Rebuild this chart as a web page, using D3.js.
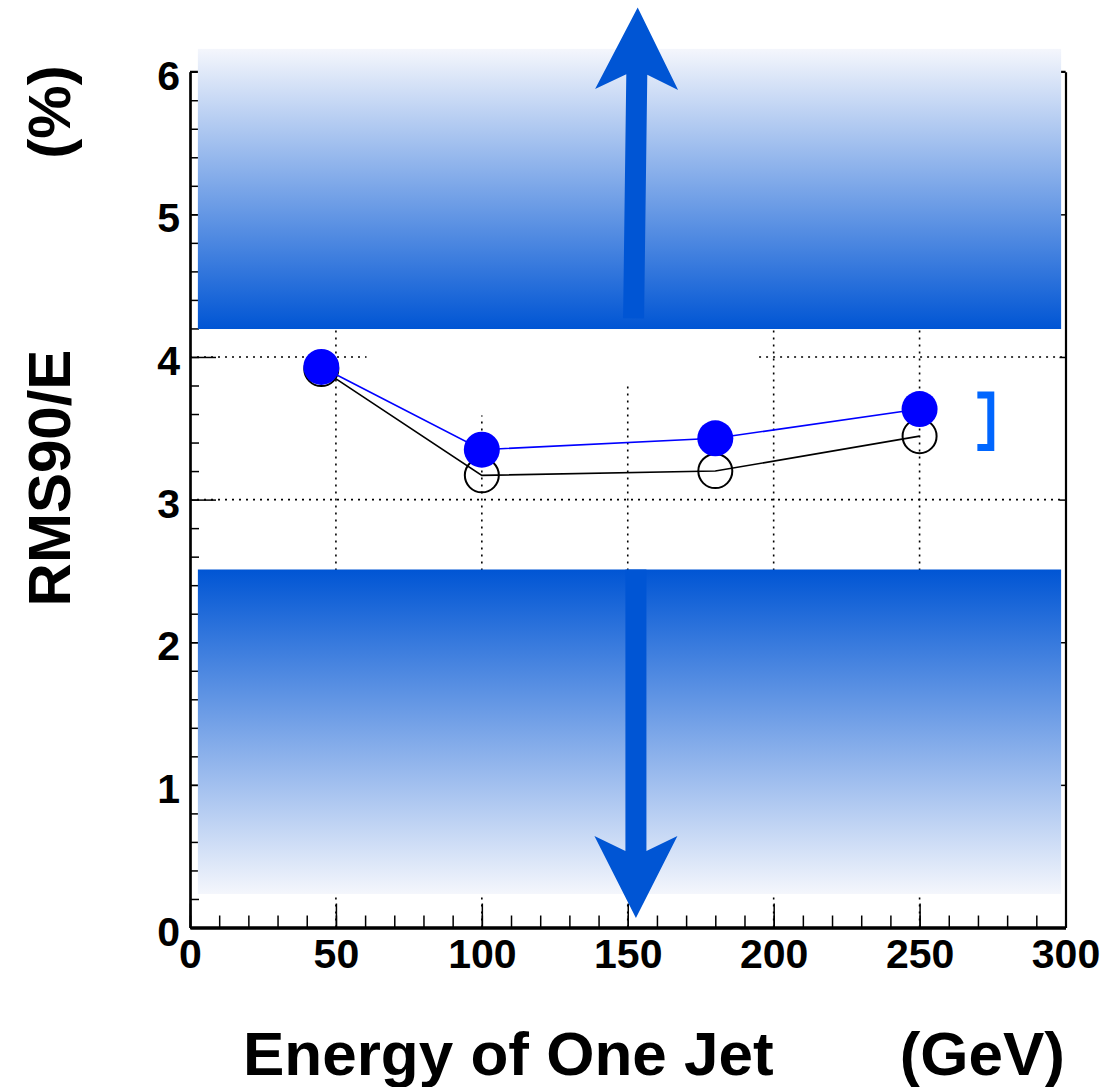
<!DOCTYPE html>
<html>
<head>
<meta charset="utf-8">
<script src="https://cdn.jsdelivr.net/npm/d3@7"></script>
<style>
  body { margin: 0; background: #fff; }
  svg { display: block; }
  text { font-family: "Liberation Sans", Arial, Helvetica, sans-serif; font-weight: bold; }
</style>
</head>
<body>
<div id="chart"></div>
<script>
// data
const energies = [45, 100, 180, 250];
const resFilled = [3.93, 3.35, 3.43, 3.635];   // blue filled markers
const resOpen = [3.915, 3.17, 3.20, 3.445];    // black open markers

const xMajor = [0, 50, 100, 150, 200, 250, 300];
const yMajor = [0, 1, 2, 3, 4, 5, 6];

// shaded bands (data units) and the arrows inside them
const bandUp = [2.7, 298.5, 4.196, 6.16];     // x0, x1, y0, y1
const bandDown = [2.7, 298.5, 0.235, 2.51];
const arrowUp = [152.0, 4.27, 153.4, 6.45];   // x0, y0 -> tip x1, y1
const arrowDown = [152.8, 2.51, 152.8, 0.067];
const bracket = [269.8, 275.6, 3.345, 3.755];

// visible pieces of the dotted grid
const gridH = [[3, 0, 300], [4, 0, 60.5], [4, 195, 300]];
const gridV = [[50, 0, 4.2], [100, 0, 3.59], [150, 0, 3.8], [200, 0, 4.2], [250, 0, 4.2]];

let width = 1106, height = 1087;

let svg = d3.select("#chart").append("svg")
  .attr("width", width)
  .attr("height", height);

let x = d3.scaleLinear().domain([0, 300]).range([190, 1065.5]);
let y = d3.scaleLinear().domain([0, 6]).range([927.5, 71.7]);

// gradients for the bands
let defs = svg.append("defs");
function grad(id, top, bottom) {
  let g = defs.append("linearGradient").attr("id", id)
    .attr("x1", 0).attr("y1", 0).attr("x2", 0).attr("y2", 1);
  g.append("stop").attr("offset", "0%").attr("stop-color", top);
  g.append("stop").attr("offset", "100%").attr("stop-color", bottom);
}
grad("gUp", "#f4f6fc", "#0055d4");
grad("gDown", "#0055d4", "#f4f6fc");

// grid
let grid = svg.append("g").attr("stroke", "#000").attr("stroke-width", 1.6)
  .attr("stroke-dasharray", "2,5");
grid.selectAll(".gh").data(gridH).enter().append("line")
  .attr("x1", d => x(d[1])).attr("x2", d => x(d[2]))
  .attr("y1", d => y(d[0])).attr("y2", d => y(d[0]));
grid.selectAll(".gv").data(gridV).enter().append("line")
  .attr("x1", d => x(d[0])).attr("x2", d => x(d[0]))
  .attr("y1", d => y(d[1])).attr("y2", d => y(d[2]));

// axes, ROOT style ticks pointing inwards
let xMinor = svg.append("g").attr("transform", `translate(0,${y(0)})`)
  .call(d3.axisBottom(x).tickValues(d3.range(0, 301, 10)).tickSize(-12).tickSizeOuter(0).tickFormat(""));
let xAxis = svg.append("g").attr("transform", `translate(0,${y(0)})`)
  .call(d3.axisBottom(x).tickValues(xMajor).tickSize(-24).tickSizeOuter(0).tickPadding(11).tickFormat(d3.format("d")));
let yMinor = svg.append("g").attr("transform", `translate(${x(0)},0)`)
  .call(d3.axisLeft(y).tickValues(d3.range(0, 6.01, 0.2)).tickSize(-9).tickSizeOuter(0).tickFormat(""));
let yAxis = svg.append("g").attr("transform", `translate(${x(0)},0)`)
  .call(d3.axisLeft(y).tickValues(yMajor).tickSize(-26).tickSizeOuter(0).tickPadding(10).tickFormat(d3.format("d")));
let yRight = svg.append("g").attr("transform", `translate(${x(300)},0)`)
  .call(d3.axisRight(y).tickValues(yMajor).tickSize(-6).tickSizeOuter(0).tickFormat(""));

svg.selectAll(".tick line").attr("stroke", "#000").attr("stroke-width", 1.5);
xMinor.select(".domain").attr("stroke-width", 3);
xAxis.select(".domain").attr("stroke-width", 3);
yMinor.select(".domain").attr("stroke-width", 2.2);
yAxis.select(".domain").attr("stroke-width", 2.2);
yRight.select(".domain").attr("stroke-width", 2.2);
xAxis.selectAll("text").attr("font-size", 41).attr("fill", "#000")
  .attr("font-family", "Liberation Sans, Arial, sans-serif").attr("font-weight", "bold");
yAxis.selectAll("text").attr("font-size", 41).attr("fill", "#000").attr("dy", "0.43em")
  .attr("font-family", "Liberation Sans, Arial, sans-serif").attr("font-weight", "bold");

// top frame line
svg.append("line").attr("x1", x(0)).attr("x2", x(300)).attr("y1", y(6)).attr("y2", y(6))
  .attr("stroke", "#000").attr("stroke-width", 2);

// shaded bands
svg.selectAll(".band").data([[bandUp, "gUp"], [bandDown, "gDown"]]).enter().append("rect")
  .attr("x", d => x(d[0][0]))
  .attr("width", d => x(d[0][1]) - x(d[0][0]))
  .attr("y", d => y(d[0][3]))
  .attr("height", d => y(d[0][2]) - y(d[0][3]))
  .attr("fill", d => `url(#${d[1]})`);

// data series
let pts = energies.map((e, i) => ({ e: e, a: resFilled[i], b: resOpen[i] }));
let lineOpen = d3.line().x(d => x(d.e)).y(d => y(d.b));
let lineFilled = d3.line().x(d => x(d.e)).y(d => y(d.a));

svg.selectAll(".open").data(pts).enter().append("circle")
  .attr("cx", d => x(d.e)).attr("cy", d => y(d.b)).attr("r", 17)
  .attr("fill", "none").attr("stroke", "#000").attr("stroke-width", 2);
svg.append("path").datum(pts).attr("d", lineOpen)
  .attr("fill", "none").attr("stroke", "#000").attr("stroke-width", 1.6);
svg.append("path").datum(pts).attr("d", lineFilled)
  .attr("fill", "none").attr("stroke", "#0000ff").attr("stroke-width", 1.6);
svg.selectAll(".filled").data(pts).enter().append("circle")
  .attr("cx", d => x(d.e)).attr("cy", d => y(d.a)).attr("r", 18)
  .attr("fill", "#0000ff");

// arrows
function arrow(a) {
  let sx = x(a[0]), sy = y(a[1]), tx = x(a[2]), ty = y(a[3]);
  let len = Math.hypot(tx - sx, ty - sy);
  let ux = (tx - sx) / len, uy = (ty - sy) / len;
  let nx = -uy, ny = ux;
  let p = (along, side) => [tx - ux * along + nx * side, ty - uy * along + ny * side];
  let shaft = 10.5, head = 41.5, notch = 67, back = 82;
  let poly = [
    [sx + nx * shaft, sy + ny * shaft],
    p(notch, shaft), p(back, head), [tx, ty], p(back, -head), p(notch, -shaft),
    [sx - nx * shaft, sy - ny * shaft]
  ];
  svg.append("polygon").attr("points", poly.map(q => q.join(",")).join(" "))
    .attr("fill", "#0055d4");
}
arrow(arrowUp);
arrow(arrowDown);

// bracket
svg.append("path")
  .attr("d", `M${x(bracket[0])},${y(bracket[3]) + 3}H${x(bracket[1]) - 3.5}V${y(bracket[2]) - 3}H${x(bracket[0])}`)
  .attr("fill", "none").attr("stroke", "#0066ff").attr("stroke-width", 7)
  .attr("stroke-linejoin", "miter");

// axis titles
svg.append("text").attr("x", 243).attr("y", 1075).attr("font-size", 62).text("Energy of One Jet");
svg.append("text").attr("x", 1065).attr("y", 1075).attr("font-size", 62)
  .attr("text-anchor", "end").text("(GeV)");
svg.append("text").attr("transform", "translate(70,478) rotate(-90)")
  .attr("text-anchor", "middle").attr("font-size", 60).text("RMS90/E");
svg.append("text").attr("transform", "translate(70,112) rotate(-90)")
  .attr("text-anchor", "middle").attr("font-size", 60).text("(%)");
</script>
</body>
</html>
